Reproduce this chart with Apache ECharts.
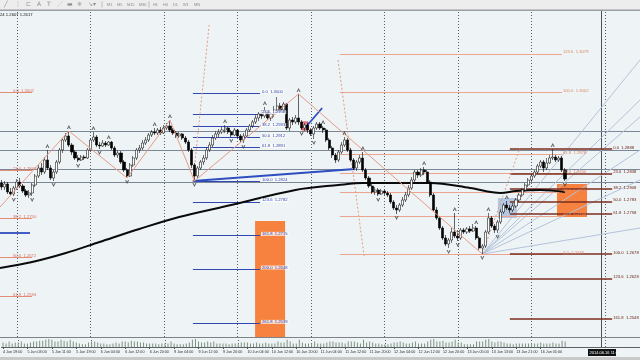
<!DOCTYPE html>
<html><head><meta charset="utf-8">
<script src="https://cdn.jsdelivr.net/npm/echarts@6/dist/echarts.min.js"></script>
<style>html,body{margin:0;padding:0;background:#eef4f6}#c{width:640px;height:360px}</style>
</head><body><div id="c"></div><script>
// ---------- data ----------
const timeLabels = ['4 Jun 19:00','5 Jun 03:00','5 Jun 11:00','5 Jun 19:00','6 Jun 04:00','6 Jun 12:00','6 Jun 20:00','9 Jun 04:00','9 Jun 12:00','9 Jun 20:00','10 Jun 04:00','10 Jun 12:00','10 Jun 20:00','11 Jun 04:00','11 Jun 12:00','11 Jun 20:00','12 Jun 04:00','12 Jun 12:00','12 Jun 20:00','13 Jun 05:00','13 Jun 13:00','13 Jun 21:00','16 Jun 05:00'];
const opens = [1.2820,1.2812,1.2818,1.2802,1.2798,1.2810,1.2822,1.2814,1.2804,1.2796,
1.2800,1.2816,1.2834,1.2850,1.2842,1.2866,1.2850,1.2830,1.2842,1.2862,
1.2886,1.2906,1.2914,1.2896,1.2882,1.2870,1.2866,1.2872,1.2870,1.2886,
1.2906,1.2912,1.2896,1.2894,1.2900,1.2896,1.2902,1.2890,1.2876,1.2880,
1.2862,1.2846,1.2834,1.2856,1.2870,1.2886,1.2890,1.2900,1.2906,1.2916,
1.2922,1.2920,1.2926,1.2920,1.2930,1.2934,1.2926,1.2920,1.2914,1.2918,
1.2910,1.2902,1.2886,1.2856,1.2834,1.2850,1.2862,1.2870,1.2886,1.2896,
1.2910,1.2918,1.2922,1.2926,1.2930,1.2922,1.2916,1.2926,1.2914,1.2906,
1.2914,1.2926,1.2934,1.2942,1.2950,1.2958,1.2954,1.2962,1.2950,1.2958,
1.2966,1.2974,1.2966,1.2978,1.2930,1.2946,1.2942,1.2950,1.2942,1.2930,
1.2936,1.2926,1.2918,1.2930,1.2938,1.2930,1.2926,1.2906,1.2890,1.2876,
1.2866,1.2882,1.2896,1.2906,1.2886,1.2866,1.2850,1.2862,1.2870,1.2846,
1.2830,1.2814,1.2802,1.2806,1.2798,1.2804,1.2800,1.2796,1.2782,1.2770,
1.2766,1.2776,1.2786,1.2796,1.2810,1.2826,1.2842,1.2836,1.2846,1.2842,
1.2822,1.2796,1.2766,1.2750,1.2730,1.2710,1.2698,1.2706,1.2722,1.2714,
1.2710,1.2726,1.2722,1.2728,1.2724,1.2730,1.2710,1.2690,1.2694,1.2722,
1.2750,1.2734,1.2726,1.2742,1.2762,1.2776,1.2770,1.2766,1.2774,1.2786,
1.2796,1.2806,1.2816,1.2826,1.2834,1.2842,1.2854,1.2862,1.2850,1.2860,
1.2870,1.2872,1.2866,1.2870,1.2846];
const closes = [1.2812,1.2818,1.2802,1.2798,1.2810,1.2822,1.2814,1.2804,1.2796,1.2800,
1.2816,1.2834,1.2850,1.2842,1.2866,1.2850,1.2830,1.2842,1.2862,1.2886,
1.2906,1.2914,1.2896,1.2882,1.2870,1.2866,1.2872,1.2870,1.2886,1.2906,
1.2912,1.2896,1.2894,1.2900,1.2896,1.2902,1.2890,1.2876,1.2880,1.2862,
1.2846,1.2834,1.2856,1.2870,1.2886,1.2890,1.2900,1.2906,1.2916,1.2922,
1.2920,1.2926,1.2920,1.2930,1.2934,1.2926,1.2920,1.2914,1.2918,1.2910,
1.2902,1.2886,1.2856,1.2834,1.2850,1.2862,1.2870,1.2886,1.2896,1.2910,
1.2918,1.2922,1.2926,1.2930,1.2922,1.2916,1.2926,1.2914,1.2906,1.2914,
1.2926,1.2934,1.2942,1.2950,1.2958,1.2954,1.2962,1.2950,1.2958,1.2966,
1.2974,1.2966,1.2978,1.2930,1.2946,1.2942,1.2950,1.2942,1.2930,1.2936,
1.2926,1.2918,1.2930,1.2938,1.2930,1.2926,1.2906,1.2890,1.2876,1.2866,
1.2882,1.2896,1.2906,1.2886,1.2866,1.2850,1.2862,1.2870,1.2846,1.2830,
1.2814,1.2802,1.2806,1.2798,1.2804,1.2800,1.2796,1.2782,1.2770,1.2766,
1.2776,1.2786,1.2796,1.2810,1.2826,1.2842,1.2836,1.2846,1.2842,1.2822,
1.2796,1.2766,1.2750,1.2730,1.2710,1.2698,1.2706,1.2722,1.2714,1.2710,
1.2726,1.2722,1.2728,1.2724,1.2730,1.2710,1.2690,1.2694,1.2722,1.2750,
1.2734,1.2726,1.2742,1.2762,1.2776,1.2770,1.2766,1.2774,1.2786,1.2796,
1.2806,1.2816,1.2826,1.2834,1.2842,1.2854,1.2862,1.2850,1.2860,1.2870,
1.2872,1.2866,1.2870,1.2846,1.2828];
const lows = [1.2806,1.2806,1.2798,1.2794,1.2794,1.2806,1.2810,1.2800,1.2792,1.2790,
1.2794,1.2812,1.2830,1.2836,1.2838,1.2846,1.2826,1.2824,1.2838,1.2858,
1.2880,1.2902,1.2892,1.2876,1.2866,1.2862,1.2864,1.2866,1.2868,1.2882,
1.2902,1.2892,1.2888,1.2892,1.2892,1.2894,1.2886,1.2872,1.2870,1.2858,
1.2842,1.2830,1.2832,1.2852,1.2866,1.2880,1.2886,1.2896,1.2902,1.2912,
1.2916,1.2916,1.2916,1.2918,1.2926,1.2922,1.2916,1.2910,1.2910,1.2906,
1.2898,1.2882,1.2850,1.2824,1.2830,1.2846,1.2856,1.2866,1.2882,1.2892,
1.2906,1.2912,1.2918,1.2920,1.2918,1.2912,1.2914,1.2910,1.2902,1.2900,
1.2910,1.2922,1.2930,1.2938,1.2944,1.2948,1.2950,1.2946,1.2944,1.2952,
1.2962,1.2960,1.2960,1.2926,1.2924,1.2936,1.2938,1.2936,1.2926,1.2924,
1.2920,1.2914,1.2908,1.2926,1.2926,1.2920,1.2902,1.2886,1.2870,1.2860,
1.2862,1.2878,1.2892,1.2882,1.2862,1.2846,1.2844,1.2858,1.2842,1.2826,
1.2810,1.2798,1.2796,1.2794,1.2796,1.2796,1.2792,1.2778,1.2766,1.2758,
1.2762,1.2772,1.2782,1.2792,1.2806,1.2822,1.2830,1.2832,1.2836,1.2818,
1.2792,1.2762,1.2746,1.2726,1.2706,1.2694,1.2690,1.2700,1.2710,1.2704,
1.2706,1.2718,1.2718,1.2720,1.2722,1.2706,1.2686,1.2678,1.2690,1.2718,
1.2730,1.2720,1.2720,1.2738,1.2758,1.2766,1.2760,1.2762,1.2770,1.2782,
1.2792,1.2802,1.2812,1.2822,1.2830,1.2838,1.2850,1.2842,1.2846,1.2858,
1.2866,1.2862,1.2862,1.2842,1.2824];
const highs = [1.2826,1.2824,1.2822,1.2810,1.2814,1.2828,1.2830,1.2818,1.2808,1.2806,
1.2820,1.2838,1.2856,1.2860,1.2872,1.2886,1.2856,1.2846,1.2866,1.2890,
1.2910,1.2920,1.2924,1.2900,1.2886,1.2876,1.2876,1.2876,1.2890,1.2910,
1.2922,1.2916,1.2902,1.2906,1.2904,1.2904,1.2904,1.2894,1.2886,1.2884,
1.2866,1.2850,1.2860,1.2874,1.2890,1.2896,1.2906,1.2912,1.2920,1.2926,
1.2930,1.2930,1.2932,1.2936,1.2940,1.2946,1.2930,1.2924,1.2922,1.2920,
1.2914,1.2906,1.2890,1.2860,1.2854,1.2866,1.2876,1.2892,1.2902,1.2916,
1.2924,1.2928,1.2932,1.2936,1.2932,1.2926,1.2930,1.2928,1.2918,1.2920,
1.2930,1.2938,1.2946,1.2956,1.2962,1.2966,1.2972,1.2966,1.2962,1.2974,
1.2992,1.2980,1.2982,1.2980,1.2950,1.2952,1.2956,1.2998,1.2946,1.2940,
1.2940,1.2930,1.2934,1.2942,1.2942,1.2934,1.2930,1.2910,1.2894,1.2880,
1.2886,1.2902,1.2912,1.2910,1.2890,1.2870,1.2866,1.2876,1.2882,1.2850,
1.2834,1.2818,1.2812,1.2810,1.2808,1.2806,1.2804,1.2800,1.2786,1.2776,
1.2780,1.2792,1.2802,1.2816,1.2832,1.2846,1.2846,1.2850,1.2852,1.2846,
1.2826,1.2800,1.2772,1.2754,1.2734,1.2716,1.2710,1.2730,1.2760,1.2726,
1.2730,1.2730,1.2732,1.2734,1.2738,1.2734,1.2714,1.2698,1.2726,1.2760,
1.2754,1.2738,1.2746,1.2768,1.2780,1.2784,1.2776,1.2780,1.2790,1.2800,
1.2810,1.2820,1.2830,1.2838,1.2846,1.2858,1.2866,1.2866,1.2870,1.2876,
1.2888,1.2876,1.2874,1.2874,1.2850];
const volumes = [5,4,6,4,5,5,6,4,4,5, 6,6,7,7,8,9,8,6,6,8, 7,6,8,6,5,4,3,3,5,6,
6,5,4,4,3,3,4,5,4,6, 6,5,7,6,6,5,5,4,4,4, 4,3,4,4,4,6,4,3,3,3,
4,5,8,9,6,5,5,6,5,6, 4,4,4,4,3,4,4,4,5,5, 5,4,4,5,4,4,5,4,4,4,
6,5,5,8,6,4,4,8,5,4, 4,4,6,4,4,4,5,6,6,5, 5,5,4,6,6,6,5,4,8,5,
6,5,4,4,3,3,3,4,5,5, 6,5,4,4,5,6,4,4,4,6, 8,9,6,6,7,5,5,6,8,5,
5,3,3,3,3,6,6,6,8,9, 6,5,6,6,5,4,4,3,4,4, 4,4,4,4,4,4,5,4,4,4,
5,4,4,7,6];
// moving average (index, price)
const maIdx = [-0.5,10,21,32,45,58,75,96,110,118,140,153,163,168,176,184];
const maVal = [1.2650,1.2662,1.2680,1.2702,1.2728,1.2752,1.2776,1.2806,1.2816,1.2820,1.2820,1.2810,1.2800,1.2804,1.2806,1.2802];
// zigzag swing points
const peakIdx = [15,22,30,35,50,55,73,86,97,105,112,118,138,148,155,159,165,180];
const troughIdx = [4,10,17,25,32,41,63,75,79,98,102,123,129,146,149,157,162,184];
const zigIdx = [-0.5,22,41,55,63,97,157];
const zigVal = [1.2772,1.2924,1.2830,1.2946,1.2824,1.2998,1.2678];
// horizontal levels across the chart
const hLevels = [1.2924,1.2886,1.2848,1.2822];
// day separators (bar index)
const daySep = [5,29,53,77,101,125,149,173,197];
// fibonacci tools
const fibs = [
  {x0:62.5, x1:84.4, p0:1.3000, p100:1.2824, levels:[0,23.6,38.2,50,61.8,100,123.6,161.8,200,261.8], color:'#3347b0', text:'#2b3fa8', w:1, bg:'rgba(255,255,255,0.75)'},
  {x0:110.5, x1:183, p0:1.2678, p100:1.3002, levels:[0,23.6,38.2,50,61.8,100,123.6], color:'#eba48f', text:'#e0866c', w:1.2},
  {x0:166, x1:199.4, p0:1.2888, p100:1.2678, levels:[0,23.6,38.2,50,61.8,100,123.6,161.8], color:'#7c2d1e', text:'#6b2416', w:1.5},
  {x0:-0.5, x1:10, p0:1.3002, p100:1.2342, levels:[0,23.6,38.2,50,61.8], color:'#e38d78', text:'#d9735c', w:1, lx:3.4}
];
// rectangles [x1, p1, x2, p2]
const rects = [
  {x1:82.8, p1:1.2744, x2:92.6, p2:1.2512, fill:'#f7823f'},
  {x1:181.4, p1:1.2818, x2:191.2, p2:1.2752, fill:'#f7823f'},
  {x1:162.1, p1:1.2790, x2:168.3, p2:1.2750, fill:'rgba(135,160,205,0.55)'},
  {x1:98.1, p1:1.2942, x2:100.1, p2:1.2926, fill:'rgba(235,90,90,0.6)', stroke:'#d23'}
];
// trend lines [x1,p1,x2,p2]
const blueLines = [[62.5,1.2824,115.4,1.2848],[99.1,1.2930,104.7,1.2970],[-0.5,1.2720,9.3,1.2720]];
const dottedLines = [[62.5,1.2822,67.8,1.3136],[109.9,1.3066,118.4,1.2674],[157,1.2678,169.3,1.2890]];
const fanOrigin = [157,1.2678];
const fanEnds = [1.3066,1.2986,1.2952,1.2886,1.2826,1.2730];
const cursorIdx = 195.8;

// ---------- chart ----------
const NCAT = 209, PMIN = 1.2512, PMAX = 1.3166;
const cats = Array.from({length:NCAT},(_,i)=>String(i));
const ohlc = opens.map((o,i)=>[o,closes[i],lows[i],highs[i]]);
const seg = (x1,p1,x2,p2)=>({coords:[[x1,p1],[x2,p2]]});
const FONT = 'Liberation Sans, Arial, sans-serif';

const fibLineData = [], fibTexts = [];
fibs.forEach(f=>{
  f.levels.forEach(l=>{
    const p = f.p0 + (f.p100-f.p0)*l/100;
    fibLineData.push({coords:[[f.x0,p],[f.x1,p]], lineStyle:{color:f.color,width:f.w,opacity:1}});
    fibTexts.push({x:(f.lx!==undefined?f.lx:f.x1), p:p, t:l.toFixed(1)+'  '+p.toFixed(4), c:f.text, bg:f.bg});
  });
});

const chart = echarts.init(document.getElementById('c'), null, {renderer:'canvas'});
const lineSeries = (name, data, style, z, xi, yi) => ({
  type:'lines', name, coordinateSystem:'cartesian2d', xAxisIndex:xi===undefined?1:xi, yAxisIndex:yi===undefined?0:yi,
  polyline:false, data, lineStyle:Object.assign({opacity:1}, style), z, silent:true, animation:false
});

chart.setOption({
  animation:false,
  backgroundColor:'#eef4f6',
  grid:[{left:0,right:0,top:10,bottom:23},{left:0,right:0,top:338,bottom:13}],
  xAxis:[
    {type:'category', gridIndex:0, data:cats, boundaryGap:true, axisLabel:{show:false}, axisTick:{show:false},
     axisLine:{show:true, lineStyle:{color:'#7d8287', width:1}}, splitLine:{show:false}},
    {type:'value', gridIndex:0, min:-0.5, max:NCAT-0.5, show:false},
    {type:'category', gridIndex:1, data:cats, boundaryGap:true,
     axisLine:{show:true, lineStyle:{color:'#5d6166'}},
     axisTick:{show:true, length:2, alignWithLabel:true, interval:(i)=>i%8===0 && i<=176, lineStyle:{color:'#555'}},
     axisLabel:{show:true, interval:(i)=>i%8===0 && i<=176, formatter:(v,i)=>timeLabels[Math.round(i/8)]||'', align:'left',
       fontSize:3.7, color:'#2d2d2d', margin:3, fontFamily:FONT}},
    {type:'value', gridIndex:1, min:-0.5, max:NCAT-0.5, show:false}
  ],
  yAxis:[
    {type:'value', gridIndex:0, min:PMIN, max:PMAX, show:false, scale:true},
    {type:'value', gridIndex:1, min:0, max:10, show:false}
  ],
  graphic:[
    {type:'rect', shape:{x:0,y:0,width:640,height:9}, style:{fill:'#ededed'}, z:100},
    {type:'line', shape:{x1:0,y1:9.5,x2:640,y2:9.5}, style:{stroke:'#c4c4c4',lineWidth:1}, z:100},
    {type:'line', shape:{x1:0,y1:10.5,x2:640,y2:10.5}, style:{stroke:'#9aa0a5',lineWidth:1}, z:100},
    ...[['╱',4],['⋮',15],['⊏',26],['A',37],['T',47],['⋰',57],['▬',67],['※',77],['↘',88],['▾',93]].map(([t,x])=>(
      {type:'text', x:x, y:1.5, style:{text:t, fontSize:6, fill:'#8e8e8e', fontFamily:'DejaVu Sans'}, z:101})),
    {type:'line', shape:{x1:102,y1:1.5,x2:102,y2:7.5}, style:{stroke:'#bbb'}, z:101},
    {type:'line', shape:{x1:149,y1:1.5,x2:149,y2:7.5}, style:{stroke:'#bbb'}, z:101},
    ...[['M1',107],['M5',117],['M15',127],['M30',139],['H1',153],['H4',163],['D1',173],['W1',183],['MN',194]].map(([t,x])=>(
      {type:'text', x:x, y:2.5, style:{text:t, fontSize:3.8, fill:'#8a8a8a', fontFamily:FONT}, z:101})),
    {type:'text', x:0, y:12.5, style:{text:'24 1.2607 1.2617', fontSize:4.2, fill:'#111', fontFamily:FONT}, z:101},
    {type:'rect', shape:{x:0,y:357,width:640,height:3}, style:{fill:'#c9c9c9'}, z:100},
    {type:'rect', shape:{x:588,y:349,width:28,height:7}, style:{fill:'#111'}, z:100},
    {type:'text', x:589.5, y:350.5, style:{text:'2014.06.16 11:00', fontSize:4, fill:'#fff', fontFamily:FONT}, z:101}
  ],
  series:[
    {type:'custom', name:'rects', xAxisIndex:1, yAxisIndex:0, z:1, silent:true,
     data:rects.map(r=>[r.x1,r.p1,r.x2,r.p2]), encode:{x:[0,2], y:[1,3]},
     renderItem:(params, api)=>{
       const r = rects[params.dataIndex];
       const a = api.coord([r.x1,r.p1]), b = api.coord([r.x2,r.p2]);
       return {type:'rect', shape:{x:Math.min(a[0],b[0]), y:Math.min(a[1],b[1]), width:Math.abs(b[0]-a[0]), height:Math.abs(b[1]-a[1])},
         style:{fill:r.fill, stroke:r.stroke||null, lineWidth:0.8}};
     }},
    lineSeries('daysep', daySep.map(i=>seg(i,PMIN,i,PMAX)), {color:'#56606a', width:1, type:[1,2]}, 2),
    lineSeries('daysep2', daySep.map(i=>seg(i,0,i,10)), {color:'#56606a', width:1, type:[1,2]}, 2, 3, 1),
    lineSeries('cursor', [seg(cursorIdx,PMIN,cursorIdx,PMAX)], {color:'#4c5258', width:1}, 2),
    lineSeries('cursor2', [seg(cursorIdx,0,cursorIdx,10)], {color:'#4c5258', width:1}, 2, 3, 1),
    lineSeries('hlevels', hLevels.map(p=>seg(-0.5,p,NCAT-0.5,p)), {color:'#7c8798', width:1}, 2),
    lineSeries('fan', fanEnds.map(p=>seg(fanOrigin[0],fanOrigin[1],NCAT-0.5,p)), {color:'#b3c3d9', width:1}, 2),
    lineSeries('fib', fibLineData, {width:1}, 3),
    lineSeries('blue', blueLines.map(l=>seg(...l)), {color:'#2e4dbe', width:1.8}, 3),
    lineSeries('dotted', dottedLines.map(l=>seg(...l)), {color:'#e29c88', width:1, type:[2,2]}, 3),
    {type:'line', name:'MA', xAxisIndex:1, yAxisIndex:0, data:maIdx.map((x,i)=>[x,maVal[i]]), smooth:0.35,
     showSymbol:false, lineStyle:{color:'#0a0a0a', width:2}, z:4, silent:true},
    {type:'candlestick', name:'EURUSD', xAxisIndex:0, yAxisIndex:0, data:ohlc, barWidth:2.6, z:5,
     itemStyle:{color:'#ffffff', color0:'#000000', borderColor:'#1a1a1a', borderColor0:'#000000', borderWidth:0.6}},
    {type:'lines', name:'zigzag', coordinateSystem:'cartesian2d', xAxisIndex:1, yAxisIndex:0, polyline:true,
     data:[{coords:zigIdx.map((x,i)=>[x,zigVal[i]])}], lineStyle:{color:'#e59a85', width:1, opacity:1}, z:6, silent:true},
    {type:'scatter', name:'peaks', xAxisIndex:1, yAxisIndex:0, data:peakIdx.map(i=>[i,highs[i]]),
     symbol:'path://M0,10 L5,0 L10,10 L7.5,10 L5,5 L2.5,10 Z', symbolSize:[4,4], symbolOffset:[0,-4],
     itemStyle:{color:'#3a3a3a'}, z:7, silent:true},
    {type:'scatter', name:'troughs', xAxisIndex:1, yAxisIndex:0, data:troughIdx.map(i=>[i,lows[i]]),
     symbol:'path://M0,0 L5,10 L10,0 L7.5,0 L5,5 L2.5,0 Z', symbolSize:[4,4], symbolOffset:[0,4],
     itemStyle:{color:'#3a3a3a'}, z:7, silent:true},
    {type:'custom', name:'fibText', xAxisIndex:1, yAxisIndex:0, z:8, silent:true,
     data:fibTexts.map(t=>[t.x,t.p]), encode:{x:0,y:1},
     renderItem:(params, api)=>{
       const t = fibTexts[params.dataIndex];
       const pt = api.coord([t.x,t.p]);
       return {type:'text', x:pt[0]+1, y:pt[1]-1.5, style:{text:t.t, fontSize:4.2, fill:t.c, fontFamily:FONT,
         verticalAlign:'middle', align:'left', backgroundColor:t.bg||null, padding:t.bg?[0,1]:0}};
     }},
    {type:'bar', name:'Volume', xAxisIndex:2, yAxisIndex:1, data:volumes, barWidth:1,
     itemStyle:{color:'#7f937f'}, z:3, silent:true}
  ]
});
</script></body></html>
